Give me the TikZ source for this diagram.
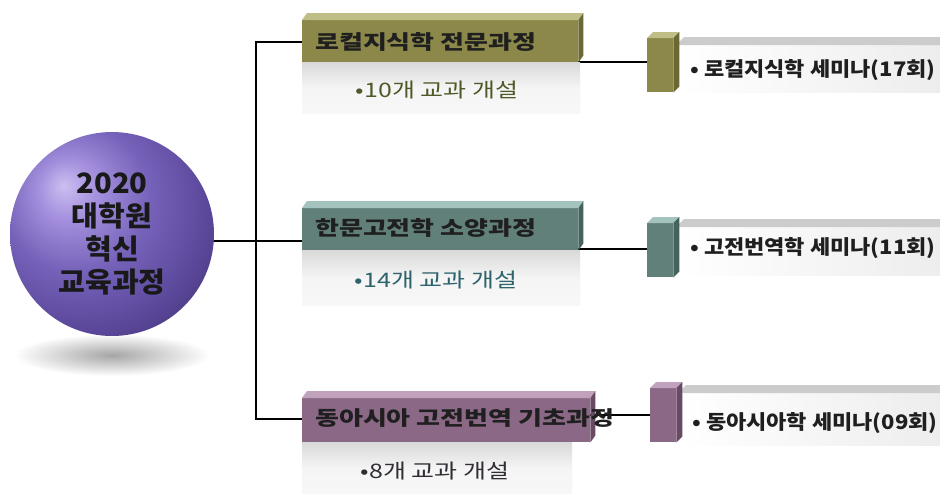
\documentclass[tikz,border=0pt]{standalone}
\usepackage{fontspec}
\newfontfamily\kr{Noto Sans CJK KR}[FakeStretch=1.04]
\newfontfamily\krh{Noto Sans CJK KR}[FakeStretch=1.3]
\newfontfamily\krs{Noto Sans CJK KR}[FakeStretch=1.25]
\newfontfamily\krl{Noto Sans CJK KR}[FakeStretch=1.1]
\usetikzlibrary{calc}
\pgfdeclarelayer{bg}
\pgfsetlayers{bg,main}
\definecolor{cOl}{RGB}{139,136,74}
\definecolor{cOlTop}{RGB}{192,190,135}
\definecolor{cOlSide}{RGB}{108,104,52}
\definecolor{cOlT}{RGB}{78,90,40}
\definecolor{cTe}{RGB}{98,128,122}
\definecolor{cTeTop}{RGB}{165,195,190}
\definecolor{cTeSide}{RGB}{70,98,94}
\definecolor{cTeT}{RGB}{45,100,108}
\definecolor{cMa}{RGB}{138,104,134}
\definecolor{cMaTop}{RGB}{192,162,188}
\definecolor{cMaSide}{RGB}{104,74,100}
\definecolor{cMaT}{RGB}{50,45,52}
\pgfdeclareradialshading{sphshade}{\pgfpoint{-12bp}{12bp}}{%
  color(0bp)=(rgb,255:red,205;green,190;blue,240);
  color(7bp)=(rgb,255:red,165;green,145;blue,222);
  color(18bp)=(rgb,255:red,118;green,98;blue,185);
  color(30bp)=(rgb,255:red,92;green,72;blue,155);
  color(44bp)=(rgb,255:red,55;green,42;blue,98);
  color(56bp)=(rgb,255:red,30;green,22;blue,52);
  color(70bp)=(rgb,255:red,30;green,22;blue,52)}
\newcommand\extr[5]{%
  \fill[#2] (#1.north west) -- (#1.north east) -- ([shift={(#4,-#5)}]#1.north east) -- ([shift={(#4,-#5)}]#1.north west) -- cycle;
  \fill[#3] (#1.north east) -- ([shift={(#4,-#5)}]#1.north east) -- ([shift={(#4,-#5)}]#1.south east) -- (#1.south east) -- cycle;}
\tikzset{
  hdr/.style={rectangle, inner sep=0pt, minimum height=42pt, anchor=north west},
  hdrtxt/.style={anchor=west, inner sep=0pt, text=black!88, font=\krh\bfseries\fontsize{20}{24}\selectfont},
  lowbox/.style={rectangle, inner sep=0pt, anchor=north west, top color=gray!30, bottom color=gray!6, middle color=gray!8},
  subtxt/.style={inner sep=0pt, font=\krs\fontsize{20}{24}\selectfont},
  blk/.style={rectangle, inner sep=0pt, minimum width=26pt, minimum height=54pt, anchor=north west},
  lab/.style={rectangle, inner sep=0pt, minimum height=47pt, anchor=north west, left color=white, right color=gray!14},
  labtxt/.style={anchor=west, inner sep=0pt, text=black!88, font=\krl\bfseries\fontsize{20}{24}\selectfont},
  conn/.style={draw=black, line width=1.7pt}
}
\begin{document}
\begin{tikzpicture}[x=1pt,y=-1pt]
\useasboundingbox (0,0) rectangle (940,493);
% sphere and shadow
\shade[inner color=gray!70, outer color=white] (112,355) ellipse (98 and 21);
\node[circle, minimum size=204pt, inner sep=0pt, shading=sphshade] (sph) at (112,234) {};
\node[align=center, inner sep=0pt, text=black!90, font=\kr\bfseries\fontsize{28}{33}\selectfont] (stxt) at (112,234) {2020\\대학원\\혁신\\교육과정};
% box 1
\node[hdr, fill=cOl, minimum width=276pt] (h1) at (302,20) {};
\extr{h1}{cOlTop}{cOlSide}{5}{7}
\node[lowbox, minimum width=278pt, minimum height=51pt] (b1) at (302,62) {};
\node[hdrtxt] (ht1) at (315,42) {로컬지식학 전문과정};
\node[subtxt, text=cOlT] (st1) at (437,90) {•10개 교과 개설};
% box 2
\node[hdr, fill=cTe, minimum width=276pt] (h2) at (302,208) {};
\extr{h2}{cTeTop}{cTeSide}{5}{7}
\node[lowbox, minimum width=278pt, minimum height=55pt] (b2) at (302,250) {};
\node[hdrtxt] (ht2) at (315,228) {한문고전학 소양과정};
\node[subtxt, text=cTeT] (st2) at (436,280) {•14개 교과 개설};
% box 3
\node[hdr, fill=cMa, minimum width=288pt, minimum height=44pt] (h3) at (302,398) {};
\extr{h3}{cMaTop}{cMaSide}{5}{7}
\node[lowbox, minimum width=270pt, minimum height=52pt] (b3) at (302,442) {};
\node[hdrtxt] (ht3) at (315,418) {동아시아 고전번역 기초과정};
\node[subtxt, text=cMaT] (st3) at (435,471) {•8개 교과 개설};
% labels
\node[lab, minimum width=264pt] (l1) at (676,45) {};
\extr{l1}{gray!40}{gray!55}{8}{8}
\node[blk, fill=cOl] (k1) at (647,38) {};
\extr{k1}{cOlTop}{cOlSide}{6}{6}
\node[labtxt] (lt1) at (690,70) {• 로컬지식학 세미나(17회)};
\node[lab, minimum width=264pt, minimum height=48pt] (l2) at (676,227) {};
\extr{l2}{gray!40}{gray!55}{8}{8}
\node[blk, fill=cTe] (k2) at (647,223) {};
\extr{k2}{cTeTop}{cTeSide}{6}{6}
\node[labtxt] (lt2) at (690,248) {• 고전번역학 세미나(11회)};
\node[lab, minimum width=262pt, minimum height=52pt] (l3) at (678,393) {};
\extr{l3}{gray!40}{gray!55}{8}{8}
\node[blk, fill=cMa] (k3) at (650,388) {};
\extr{k3}{cMaTop}{cMaSide}{6}{6}
\node[labtxt] (lt3) at (692,423) {• 동아시아학 세미나(09회)};
% connectors
\coordinate (j1) at (256,42);
\coordinate (j2) at (256,241);
\coordinate (j3) at (256,419);
\coordinate (r1) at (600,62);
\coordinate (r2) at (600,249);
\coordinate (r3) at (600,415);
\begin{pgfonlayer}{bg}
\fill[white] (0,0) rectangle (940,493);
\draw[conn] (h1.west |- j1) -- (j1) -- (j3) -- (h3.west |- j3);
\draw[conn] (sph.center |- j2) -- (h2.west |- j2);
\draw[conn] (h1.east |- r1) -- (k1.west |- r1);
\draw[conn] (h2.east |- r2) -- (k2.west |- r2);
\draw[conn] (h3.east |- r3) -- (k3.west |- r3);
\end{pgfonlayer}
\end{tikzpicture}
\end{document}
